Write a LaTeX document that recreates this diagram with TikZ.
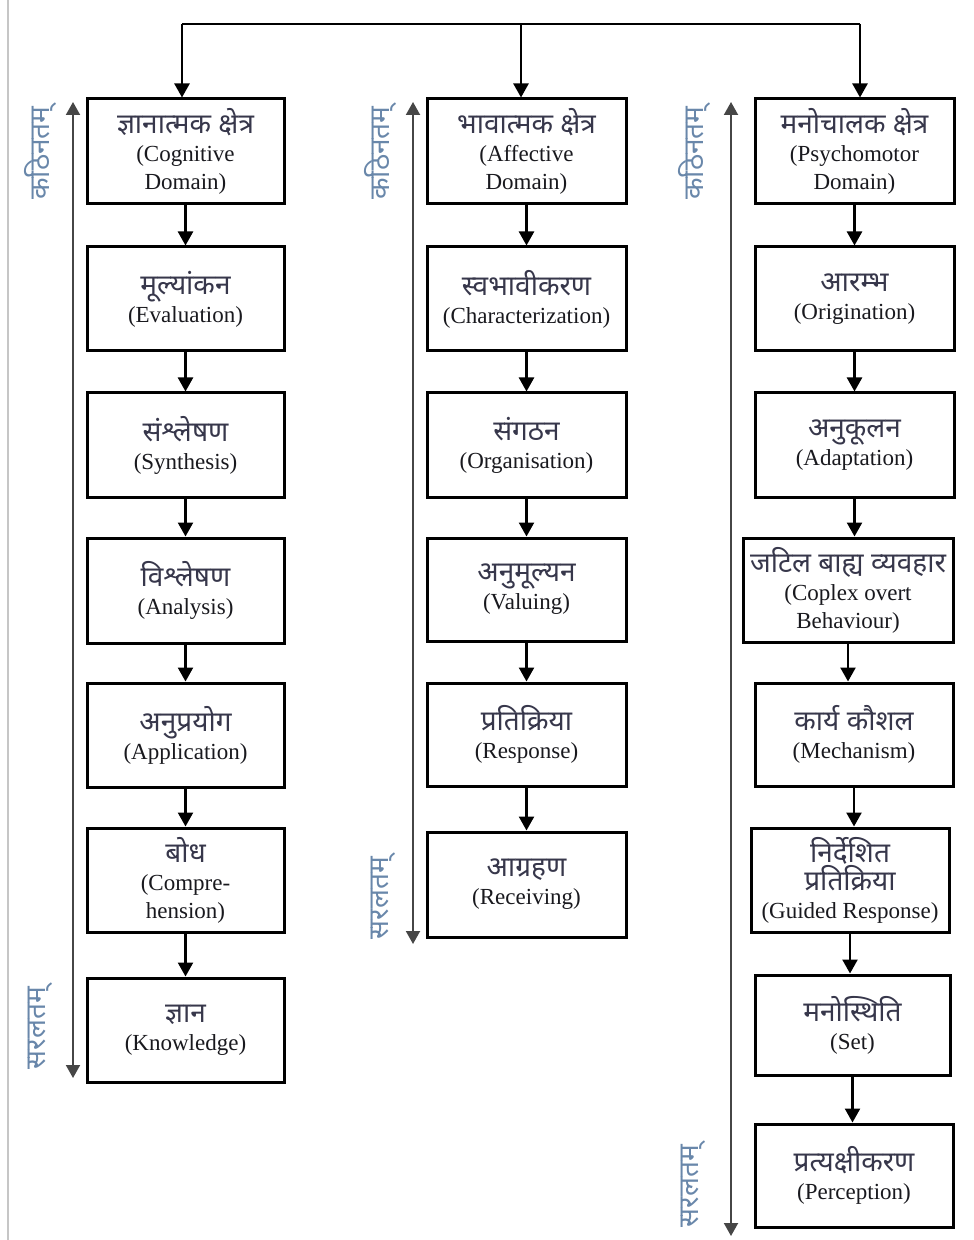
\documentclass[tikz,border=0pt]{standalone}
\usepackage{fontspec}
\setmainfont{Liberation Serif}
\newfontfamily\dev[Script=Devanagari]{Noto Sans}
\usetikzlibrary{arrows.meta}
\definecolor{devtext}{RGB}{55,55,75}
\definecolor{entext}{RGB}{25,25,30}
\definecolor{labblue}{RGB}{105,135,170}
\definecolor{sidegray}{RGB}{70,70,70}
\newcommand\hi[1]{{\color{devtext}\dev\fontsize{14}{14}\selectfont #1}}
\newcommand\mybox[6]{%
  \pgfmathsetmacro\bw{(#4-#2)*0.5}%
  \pgfmathsetmacro\bh{(#5-#3)*0.5}%
  \node[bx, minimum width=\bw pt, minimum height=\bh pt] (#1) at ({(#2+#4)/2},{(#3+#5)/2}) {#6};}
\begin{document}
\begin{tikzpicture}[x=0.5pt,y=-0.5pt,
  bx/.style={draw=black, line width=1.5pt, fill=white, align=center, inner sep=0pt,
    font=\fontsize{11.5}{14}\selectfont, text=entext},
  conn/.style={draw=black, line width=1.2pt, -{Triangle[width=7.5pt,length=7pt]}},
  side/.style={draw=sidegray, line width=1pt, {Triangle[width=7pt,length=6.5pt]}-{Triangle[width=7pt,length=6.5pt]}},
  vlab/.style={rotate=90, text=labblue, inner sep=0pt, font=\dev\fontsize{14}{14}\selectfont}]
\useasboundingbox (0,0) rectangle (973,1240);
\draw[gray!45, line width=0.6pt] (8,0) -- (8,1240);
% column 1
\mybox{c1a}{87}{99}{284}{204}{\hi{ज्ञानात्मक क्षेत्र}\\(Cognitive\\Domain)}
\mybox{c1b}{87}{247}{284}{351}{\hi{मूल्यांकन}\\(Evaluation)}
\mybox{c1c}{87}{393}{284}{497}{\hi{संश्लेषण}\\(Synthesis)}
\mybox{c1d}{87}{538}{284}{643}{\hi{विश्लेषण}\\(Analysis)}
\mybox{c1e}{87}{683}{284}{787}{\hi{अनुप्रयोग}\\(Application)}
\mybox{c1f}{87}{828}{284}{932}{\hi{बोध}\\(Compre-\\hension)}
\mybox{c1g}{87}{978}{284}{1082}{\hi{ज्ञान}\\(Knowledge)}
% column 2
\mybox{c2a}{427}{99}{626}{204}{\hi{भावात्मक क्षेत्र}\\(Affective\\Domain)}
\mybox{c2b}{427}{247}{626}{351}{\hi{स्वभावीकरण}\\(Characterization)}
\mybox{c2c}{427}{393}{626}{497}{\hi{संगठन}\\(Organisation)}
\mybox{c2d}{427}{538}{626}{641}{\hi{अनुमूल्यन}\\(Valuing)}
\mybox{c2e}{427}{683}{626}{786}{\hi{प्रतिक्रिया}\\(Response)}
\mybox{c2f}{427}{832}{626}{937}{\hi{आग्रहण}\\(Receiving)}
% column 3
\mybox{c3a}{755}{99}{954}{204}{\hi{मनोचालक क्षेत्र}\\(Psychomotor\\Domain)}
\mybox{c3b}{755}{247}{954}{351}{\hi{आरम्भ}\\(Origination)}
\mybox{c3c}{755}{393}{954}{497}{\hi{अनुकूलन}\\(Adaptation)}
\mybox{c3d}{743}{538}{953}{642}{\hi{जटिल बाह्य व्यवहार}\\(Coplex overt\\Behaviour)}
\mybox{c3e}{755}{683}{953}{786}{\hi{कार्य कौशल}\\(Mechanism)}
\mybox{c3f}{751}{828}{949}{932}{\hi{निर्देशित}\\\hi{प्रतिक्रिया}\\(Guided Response)}
\mybox{c3g}{755}{975}{950}{1075}{\hi{मनोस्थिति}\\(Set)}
\mybox{c3h}{755}{1124}{953}{1227}{\hi{प्रत्यक्षीकरण}\\(Perception)}
% top connector
\coordinate (tl) at (182,24);
\coordinate (tm) at (521,24);
\coordinate (tr) at (860,24);
\draw[draw=black, line width=1.2pt] (tl) -- (tr);
\draw[conn] (tl) -- (tl |- c1a.north);
\draw[conn] (tm) -- (tm |- c2a.north);
\draw[conn] (tr) -- (tr |- c3a.north);
% chain connectors
\foreach \a/\b in {c1a/c1b,c1b/c1c,c1c/c1d,c1d/c1e,c1e/c1f,c1f/c1g,
                   c2a/c2b,c2b/c2c,c2c/c2d,c2d/c2e,c2e/c2f,
                   c3a/c3b,c3b/c3c,c3c/c3d,c3d/c3e,c3e/c3f,c3f/c3g,c3g/c3h}
  \draw[conn] (\a.south) -- (\a.south |- \b.north);
% side arrows
\coordinate (s1t) at (73,102);  \coordinate (s1b) at (73,1078);
\coordinate (s2t) at (413,102); \coordinate (s2b) at (413,944);
\coordinate (s3t) at (731,102); \coordinate (s3b) at (731,1236);
\draw[side] (s1b) -- (s1t);
\draw[side] (s2b) -- (s2t);
\draw[side] (s3b) -- (s3t);
% side labels
\node[vlab] (k1) at (40,153) {कठिनतम्};
\node[vlab] (r1) at (40,1028) {सरलतम्};
\node[vlab] (k2) at (380,153) {कठिनतम्};
\node[vlab] (r2) at (383,898) {सरलतम्};
\node[vlab] (k3) at (694,153) {कठिनतम्};
\node[vlab] (r3) at (693,1186) {सरलतम्};
\end{tikzpicture}
\end{document}
